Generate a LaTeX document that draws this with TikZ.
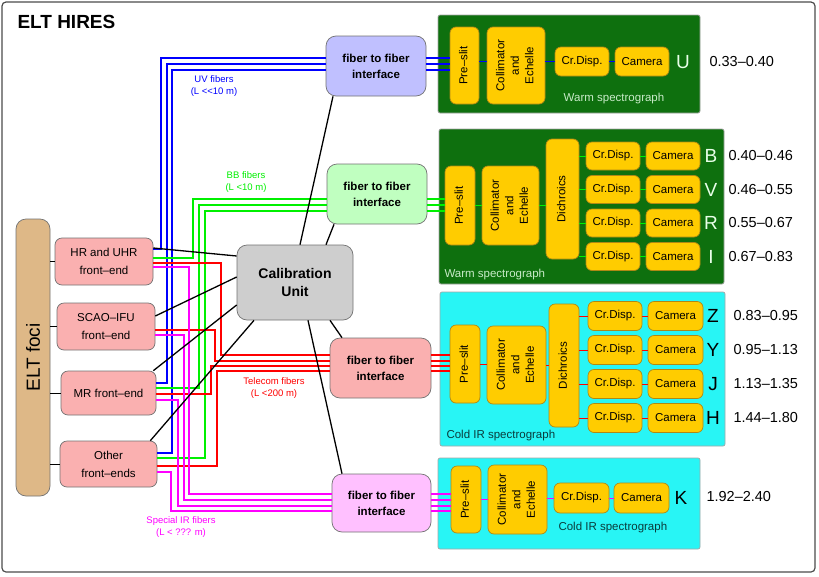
\documentclass[tikz,border=0pt]{standalone}
\usepackage{fontspec}
\setmainfont{Liberation Sans}
\usepackage{xcolor}
\usetikzlibrary{positioning, arrows.meta, shapes}

\definecolor{fepink}{RGB}{250,176,176}
\definecolor{focitan}{RGB}{222,184,135}
\definecolor{calgray}{RGB}{206,206,206}
\definecolor{uvif}{RGB}{192,192,255}
\definecolor{bbif}{RGB}{192,255,192}
\definecolor{irif}{RGB}{255,192,255}
\definecolor{warmgreen}{RGB}{14,112,14}
\definecolor{coldcyan}{RGB}{40,245,245}
\definecolor{optyellow}{RGB}{255,204,0}
\definecolor{optborder}{RGB}{176,136,20}
\definecolor{warmtext}{RGB}{200,235,200}
\definecolor{coldtext}{RGB}{10,60,60}
\definecolor{bandlight}{RGB}{232,255,232}
\definecolor{uvcol}{RGB}{0,0,255}
\definecolor{bbcol}{RGB}{0,240,0}
\definecolor{telcol}{RGB}{255,0,0}
\definecolor{ircol}{RGB}{255,0,255}

\newcommand{\rotlabel}[1]{\rotatebox{90}{\begin{tabular}{@{}c@{}}#1\end{tabular}}}

\begin{document}
\begin{tikzpicture}[x=1pt, y=-1pt,
    box/.style={draw=black!55, line width=0.7pt, rounded corners=7pt, align=center, inner sep=1pt},
    fe/.style={box, fill=fepink, font=\fontsize{11.5}{18}\selectfont},
    iface/.style={box, rounded corners=10pt, minimum width=100pt, minimum height=60pt, font=\fontsize{11.5}{16}\selectfont\bfseries},
    optic/.style={box, draw=optborder, fill=optyellow, rounded corners=6pt, font=\fontsize{11.5}{14.5}\selectfont},
    spec/.style={draw=black!35, line width=0.7pt, rounded corners=2pt, inner sep=0pt},
    band/.style={font=\fontsize{19}{20}\selectfont},
    wl/.style={anchor=west, font=\fontsize{14.5}{16}\selectfont},
    speclabel/.style={font=\fontsize{11.5}{12}\selectfont},
    fiblabel/.style={align=center, font=\fontsize{9.5}{12}\selectfont},
    fib/.style={line width=1.4pt},
    optfib/.style={line width=1pt},
    link/.style={line width=1.3pt}]

    % frame and title
    \useasboundingbox (0,0) rectangle (819,576);
    \draw[rounded corners=4pt, draw=black!70, line width=1.2pt, fill=white] (2,2) rectangle (815,572);
    \node[anchor=west, font=\fontsize{19}{20}\selectfont\bfseries] (title) at (14,22) {ELT HIRES};

    % telescope side
    \node[box, fill=focitan, rounded corners=10pt, minimum width=34pt, minimum height=277pt, font=\fontsize{19}{20}\selectfont] (foci) at (33,357.5) {\rotatebox{90}{ELT foci}};
    \node[fe, minimum width=98pt, minimum height=47pt] (hr) at (104,261.5) {HR and UHR\\front--end};
    \node[fe, minimum width=98pt, minimum height=47pt] (scao) at (106,326.5) {SCAO--IFU\\front--end};
    \node[fe, minimum width=95pt, minimum height=44pt] (mr) at (108.5,393) {MR front--end};
    \node[fe, minimum width=97pt, minimum height=46pt] (other) at (108.5,464) {Other\\front--ends};
    \foreach \n in {hr,scao,mr,other} \draw[line width=1pt] (foci.east |- \n.west) -- (\n.west);

    \node[box, fill=calgray, rounded corners=10pt, minimum width=116pt, minimum height=75pt, font=\fontsize{14}{18}\selectfont\bfseries] (cal) at (295,282.5) {Calibration\\Unit};

    % fiber to fiber interfaces
    \node[iface, fill=uvif] (ifuv) at (376,66) {fiber to fiber\\interface};
    \node[iface, fill=bbif] (ifbb) at (377,194) {fiber to fiber\\interface};
    \node[iface, fill=fepink, minimum width=101pt] (iftel) at (380.5,368) {fiber to fiber\\interface};
    \node[iface, fill=irif, minimum width=99pt, minimum height=58pt] (ifir) at (381.5,503) {fiber to fiber\\interface};

    % spectrograph boxes
    \node[spec, fill=warmgreen, minimum width=262pt, minimum height=98pt] (specu) at (569,64) {};
    \node[spec, fill=warmgreen, minimum width=285pt, minimum height=155pt] (specvis) at (581.5,206.5) {};
    \node[spec, fill=coldcyan, minimum width=285pt, minimum height=154pt] (specnir) at (582.5,369) {};
    \node[spec, fill=coldcyan, minimum width=262pt, minimum height=91pt] (speck) at (569,503.5) {};

    % U arm
    \node[optic, minimum width=29pt, minimum height=77pt] (ps1) at (464.5,65.5) {\rotlabel{Pre--slit}};
    \node[optic, minimum width=58pt, minimum height=77pt] (col1) at (516,65.5) {\rotlabel{Collimator\\and\\Echelle}};
    \node[optic, minimum width=54pt, minimum height=29pt] (cd1) at (582,61.5) {Cr.Disp.};
    \node[optic, minimum width=54pt, minimum height=29pt] (cam1) at (642,61.5) {Camera};
    \node[band, text=bandlight] (bandU) at (683,62) {U};
    \node[wl] (wlU) at (706,62) {0.33--0.40};
    \node[speclabel, text=warmtext] (nameu) at (614,99) {Warm spectrograph};
    \draw[optfib, uvcol] (ps1.east |- cd1) -- (col1.west |- cd1);
    \draw[optfib, uvcol] (col1.east |- cd1) -- (cd1.west);
    \draw[optfib, uvcol] (cd1) -- (cam1);

    % BVRI arms
    \node[optic, minimum width=30pt, minimum height=79pt] (ps2) at (460,205.5) {\rotlabel{Pre--slit}};
    \node[optic, minimum width=57pt, minimum height=79pt] (col2) at (510.5,205.5) {\rotlabel{Collimator\\and\\Echelle}};
    \node[optic, minimum width=33pt, minimum height=120pt] (dic2) at (562.5,199) {\rotlabel{Dichroics}};
    \draw[optfib, bbcol] (ps2) -- (col2);
    \draw[optfib, bbcol] (col2.east) -- (dic2.west |- col2.east);
    \foreach \b/\w [count=\i] in {B/0.40--0.46, V/0.46--0.55, R/0.55--0.67, I/0.67--0.83} {
        \node[optic, minimum width=54pt, minimum height=28pt] (cdv\i) at (613,122.5+33.5*\i) {Cr.Disp.};
        \node[optic, minimum width=54pt, minimum height=28pt] (camv\i) at (673,122.5+33.5*\i) {Camera};
        \node[band, text=bandlight] (bandv\i) at (711,122.5+33.5*\i) {\b};
        \node[wl] (wlv\i) at (725,122.5+33.5*\i) {\w};
        \draw[optfib, bbcol] (dic2.east |- cdv\i) -- (cdv\i.west);
        \draw[optfib, bbcol] (cdv\i) -- (camv\i);
    }
    \node[speclabel, text=warmtext, anchor=west] (namevis) at (441,275) {Warm spectrograph};

    % ZYJH arms
    \node[optic, minimum width=30pt, minimum height=78pt] (ps3) at (465,364) {\rotlabel{Pre--slit}};
    \node[optic, minimum width=59pt, minimum height=78pt] (col3) at (516.5,365) {\rotlabel{Collimator\\and\\Echelle}};
    \node[optic, minimum width=30pt, minimum height=123pt] (dic3) at (564,365.5) {\rotlabel{Dichroics}};
    \draw[optfib, telcol] (ps3.east) -- (col3.west |- ps3.east);
    \draw[optfib, telcol] (col3.east) -- (dic3.west |- col3.east);
    \foreach \b/\w [count=\i] in {Z/0.83--0.95, Y/0.95--1.13, J/1.13--1.35, H/1.44--1.80} {
        \node[optic, minimum width=54pt, minimum height=29pt] (cdn\i) at (615,282+34*\i) {Cr.Disp.};
        \node[optic, minimum width=55pt, minimum height=29pt] (camn\i) at (675.5,282+34*\i) {Camera};
        \node[band] (bandn\i) at (713,282+34*\i) {\b};
        \node[wl] (wln\i) at (730,282+34*\i) {\w};
        \draw[optfib, telcol] (dic3.east |- cdn\i) -- (cdn\i.west);
        \draw[optfib, telcol] (cdn\i) -- (camn\i);
    }
    \node[speclabel, text=coldtext, anchor=west] (namenir) at (443,436) {Cold IR spectrograph};

    % K arm
    \node[optic, minimum width=30pt, minimum height=67pt] (ps4) at (466,499.5) {\rotlabel{Pre--slit}};
    \node[optic, minimum width=59pt, minimum height=69pt] (col4) at (517.5,499.5) {\rotlabel{Collimator\\and\\Echelle}};
    \node[optic, minimum width=55pt, minimum height=30pt] (cd4) at (581.5,498) {Cr.Disp.};
    \node[optic, minimum width=55pt, minimum height=30pt] (cam4) at (641.5,498) {Camera};
    \node[band] (bandK) at (681,498) {K};
    \node[wl] (wlK) at (703,497) {1.92--2.40};
    \node[speclabel, text=coldtext, anchor=west] (namek) at (555,528) {Cold IR spectrograph};
    \draw[optfib, ircol] (ps4) -- (col4);
    \draw[optfib, ircol] (col4.east |- cd4) -- (cd4.west);
    \draw[optfib, ircol] (cd4) -- (cam4);

    % fibers: front-end -> interface -> pre-slit
    \foreach \fe/\ya/\xv/\yb in {hr/249/161/58, mr/383/167/64, other/453/172/70}
        \draw[fib, uvcol] (\fe.east |- 0,\ya) -| (\xv,\yb) -- (ifuv.west |- 0,\yb);
    \foreach \y in {58,64,70} \draw[fib, uvcol] (ifuv.east |- 0,\y) -- (ps1.west |- 0,\y);
    \foreach \fe/\ya/\xv/\yb in {hr/258/193/199, mr/388/199/205, other/458/205/211}
        \draw[fib, bbcol] (\fe.east |- 0,\ya) -| (\xv,\yb) -- (ifbb.west |- 0,\yb);
    \foreach \y in {199,205,211} \draw[fib, bbcol] (ifbb.east |- 0,\y) -- (ps2.west |- 0,\y);
    \foreach \fe/\ya/\xv/\yb in {hr/263/221/355, scao/330/215/361, mr/394/211/366, other/466/217/371}
        \draw[fib, telcol] (\fe.east |- 0,\ya) -| (\xv,\yb) -- (iftel.west |- 0,\yb);
    \foreach \y in {355,361,366,371} \draw[fib, telcol] (iftel.east |- 0,\y) -- (ps3.west |- 0,\y);
    \foreach \fe/\ya/\xv/\yb in {hr/267/189/494, scao/335/184/500, mr/400/178/506, other/472/171/511}
        \draw[fib, ircol] (\fe.east |- 0,\ya) -| (\xv,\yb) -- (ifir.west |- 0,\yb);
    \foreach \y in {494,500,506,511} \draw[fib, ircol] (ifir.east |- 0,\y) -- (ps4.west |- 0,\y);

    \node[fiblabel, text=uvcol] (lbluv) at (214,86) {UV fibers\\(L <{}<10 m)};
    \node[fiblabel, text=bbcol] (lblbb) at (246,182) {BB fibers\\(L <10 m)};
    \node[fiblabel, text=telcol] (lbltel) at (274,388.5) {Telecom fibers\\(L <200 m)};
    \node[fiblabel, text=ircol] (lblir) at (181,527) {Special IR fibers\\(L < ??? m)};

    % calibration links
    \draw[link] (hr.east |- 0,248) -- (cal.west |- 0,256);
    \draw[link] (scao.east |- 0,316) -- (cal.west |- 0,277);
    \draw[link] ([xshift=-3pt]mr.north east) -- (cal.west |- 0,305);
    \draw[link] ([xshift=-7pt]other.north east) -- ([xshift=-41pt]cal.south);
    \draw[link] ([xshift=5pt]cal.north) -- ([xshift=-43pt]ifuv.south);
    \draw[link] ([xshift=31pt]cal.north) -- ([xshift=-43pt]ifbb.south);
    \draw[link] ([xshift=35pt]cal.south) -- ([xshift=-38.5pt]iftel.north);
    \draw[link] ([xshift=13pt]cal.south) -- ([xshift=-39.5pt]ifir.north);
\end{tikzpicture}
\end{document}
